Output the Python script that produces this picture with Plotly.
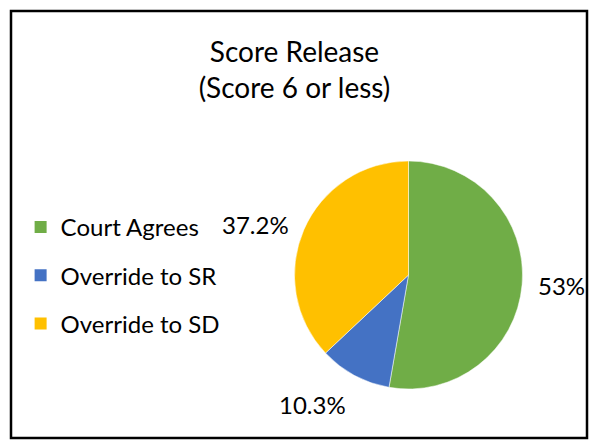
import math
import plotly.graph_objects as go

labels = ["Court Agrees", "Override to SR", "Override to SD"]
values = [53.0, 10.3, 37.2]
colors = ["#70AD47", "#4472C4", "#FFC000"]
title_lines = ["Score Release", "(Score 6 or less)"]

W, H = 589, 440
FONT = "Lato, 'Open Sans', sans-serif"

# pie geometry (pixels)
cx, cy, rad = 408.5, 275, 114
dom_x = [(cx - rad) / W, (cx + rad) / W]
dom_y = [(H - cy - rad) / H, (H - cy + rad) / H]

fig = go.Figure()

fig.add_trace(
    go.Pie(
        labels=labels,
        values=values,
        marker=dict(colors=colors, line=dict(color="white", width=0.5)),
        sort=False,
        direction="clockwise",
        rotation=0,
        textinfo="none",
        hoverinfo="label+percent",
        showlegend=False,
        domain=dict(x=dom_x, y=dom_y),
    )
)

# legend entries (dummy traces so the spacing can be controlled)
for lab, col in zip(labels, colors):
    fig.add_trace(
        go.Scatter(
            x=[None], y=[None],
            mode="markers",
            name=lab,
            legendgroup=lab,
            marker=dict(symbol="square", size=12, color=col),
        )
    )

# data labels, placed just outside the slice midpoints
total = sum(values)
cum = 0
label_r = 128
for v in values:
    mid = (cum + v / 2) / total * 2 * math.pi
    cum += v
    s, c = math.sin(mid), math.cos(mid)
    px = cx + label_r * s
    py = cy - label_r * c
    xa = "left" if s > 0.3 else ("right" if s < -0.3 else "center")
    ya = "top" if c < -0.5 else ("bottom" if c > 0.5 else "middle")
    fig.add_annotation(
        x=px / W, y=(H - py) / H, xref="paper", yref="paper",
        text=f"{v:g}%", showarrow=False, xanchor=xa, yanchor=ya,
        font=dict(size=24, color="#000000", family=FONT),
    )

fig.update_layout(
    width=W,
    height=H,
    margin=dict(l=0, r=0, t=0, b=0),
    paper_bgcolor="white",
    plot_bgcolor="white",
    font=dict(family=FONT, color="#000000"),
    title=dict(
        text="<br>".join(title_lines),
        x=0.5, xanchor="center",
        y=1 - 62 / H, yanchor="middle",
        font=dict(size=28, color="#000000", family=FONT),
    ),
    xaxis=dict(visible=False),
    yaxis=dict(visible=False),
    legend=dict(
        x=0.035, y=1 - 205 / H, xanchor="left", yanchor="top",
        font=dict(size=24, color="#000000", family=FONT),
        tracegroupgap=14,
        itemwidth=30,
        bgcolor="rgba(0,0,0,0)",
    ),
    shapes=[
        dict(
            type="rect", xref="paper", yref="paper",
            x0=11 / W, x1=587 / W, y0=1 - 438 / H, y1=1 - 11 / H,
            line=dict(color="#000000", width=2.5),
        )
    ],
)

fig.write_html(
    "out.html",
    config={"displayModeBar": False},
    post_script="document.body.style.margin='0';",
)
